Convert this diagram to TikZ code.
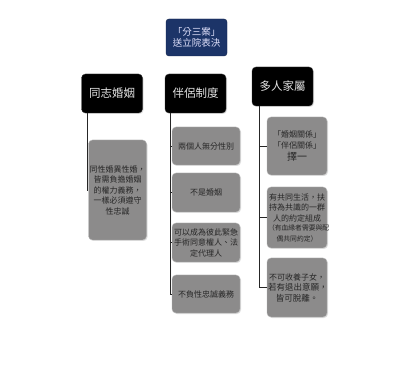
\documentclass[tikz,border=0pt]{standalone}
\usepackage{fontspec}
\newfontfamily\cjk{Noto Sans CJK TC}
\usetikzlibrary{shadows}
\definecolor{navy}{HTML}{1C3468}
\definecolor{boxgray}{HTML}{8C8B8B}
\definecolor{boxedge}{HTML}{B5B5B5}
\tikzset{
  topbox/.style={fill=navy, draw=navy!70!black, rounded corners=3pt, text=white!90!blue, align=center,
    font=\cjk\fontsize{9.5}{11.5}\selectfont, inner sep=1pt, minimum width=61pt, minimum height=37pt},
  headbox/.style={fill=black, draw=black!80, rounded corners=4pt, text=white!80!gray, align=center,
    font=\cjk\fontsize{11.5}{14}\selectfont, inner sep=1pt, minimum width=61pt, minimum height=39pt,
    drop shadow={opacity=0.25, shadow xshift=1pt, shadow yshift=-1pt}},
  leafbox/.style={fill=boxgray, draw=boxedge, rounded corners=4pt, text=black!85, align=center,
    font=\cjk\fontsize{8}{10.5}\selectfont, inner sep=1pt,
    drop shadow={opacity=0.25, shadow xshift=1pt, shadow yshift=-1pt}},
  link/.style={draw=black!85, line width=0.9pt}
}
\begin{document}
\begin{tikzpicture}[x=1pt, y=-1pt]
\useasboundingbox (0,0) rectangle (396,371);
\fill[white] (0,0) rectangle (396,371);

\node[topbox] (top) at (196.5,37.5) {「分三案」\\送立院表決};

\node[headbox] (h1) at (112,93.5) {同志婚姻};
\node[headbox] (h2) at (195.5,93.5) {伴侶制度};
\node[headbox] (h3) at (282.5,86.5) {多人家屬};

\coordinate (s1) at (87,113);
\coordinate (e1) at (87,190);
\coordinate (s2) at (170,113);
\coordinate (e2) at (170,294);
\coordinate (s3) at (259,106);
\coordinate (e3) at (259,287.5);

\node[leafbox, minimum width=57pt, minimum height=100pt, text width=56pt] (a1) at (117.5,190)
  {同性婚異性婚，\\皆需負擔婚姻\\的權力義務，\\一樣必須遵守\\性忠誠};

\node[leafbox, minimum width=68pt, minimum height=38pt, text width=66pt] (b1) at (206,146) {兩個人無分性別};
\node[leafbox, minimum width=68pt, minimum height=39pt, text width=66pt] (b2) at (206,192.5) {不是婚姻};
\node[leafbox, minimum width=68pt, minimum height=39pt, text width=66pt] (b3) at (206,242.5)
  {可以成為彼此緊急\\手術同意權人、法\\定代理人};
\node[leafbox, minimum width=68pt, minimum height=38pt, text width=66pt] (b4) at (206,294) {不負性忠誠義務};

\node[leafbox, minimum width=60pt, minimum height=58pt, text width=58pt] (c1) at (297,146)
  {「婚姻關係」\\「伴侶關係」\\[2pt]{\fontsize{10}{12}\selectfont 擇一}};
\node[leafbox, minimum width=60pt, minimum height=61pt, text width=58pt] (c2) at (297,217.5)
  {有共同生活，扶\\持為共識的一群\\人的約定組成\\[1pt]{\fontsize{6.8}{8.5}\selectfont（有血緣者需要與配\\偶共同約定）}};
\node[leafbox, minimum width=60pt, minimum height=59pt, text width=58pt] (c3) at (297,287.5)
  {不可收養子女，\\{\fontsize{8.5}{11}\selectfont 若有退出意願，}\\{\fontsize{8.5}{11}\selectfont 皆可脫離。}};

\draw[link] (s1) -- (e1) -- (e1 -| a1.west);
\draw[link] (s2) -- (e2);
\draw[link] (s2 |- b1.west) -- (b1.west);
\draw[link] (s2 |- b2.west) -- (b2.west);
\draw[link] (s2 |- b3.west) -- (b3.west);
\draw[link] (s2 |- b4.west) -- (b4.west);
\draw[link] (s3) -- (e3);
\draw[link] (s3 |- c1.west) -- (c1.west);
\draw[link] (s3 |- c2.west) -- (c2.west);
\draw[link] (s3 |- c3.west) -- (c3.west);
\end{tikzpicture}
\end{document}
